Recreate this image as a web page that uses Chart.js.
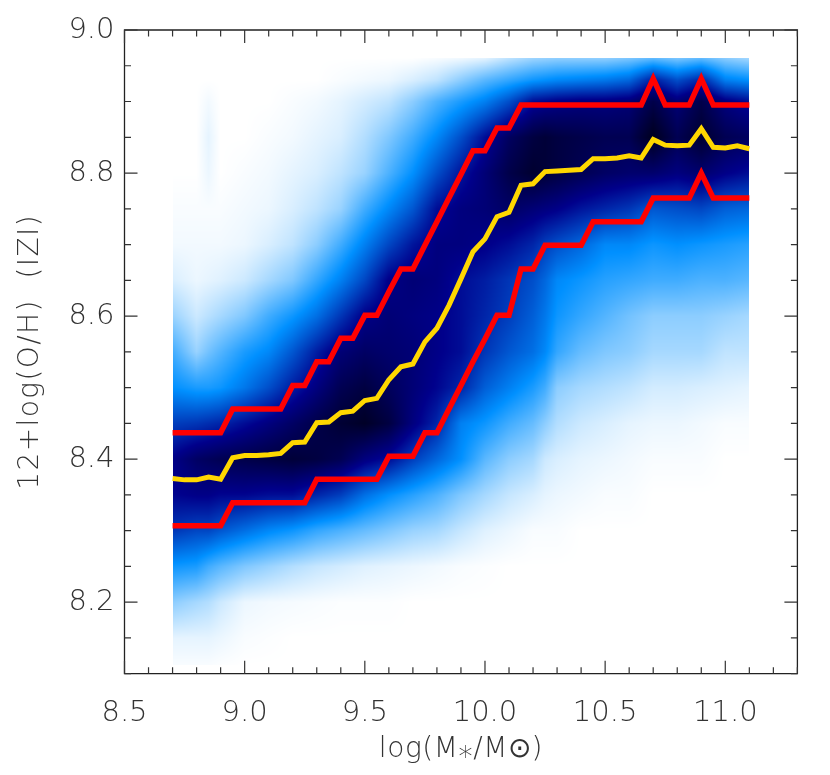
<!DOCTYPE html>
<html><head><meta charset="utf-8">
<style>html,body{margin:0;padding:0;background:#fff}canvas{display:block}</style>
<script src="https://cdn.jsdelivr.net/npm/chart.js@4"></script>
</head><body>
<div style="width:830px;height:775px"><canvas id="c" width="830" height="775"></canvas></div>
<script>
const massBins=[8.7,8.75,8.8,8.85,8.9,8.95,9,9.05,9.1,9.15,9.2,9.25,9.3,9.35,9.4,9.45,9.5,9.55,9.6,9.65,9.7,9.75,9.8,9.85,9.9,9.95,10,10.05,10.1,10.15,10.2,10.25,10.3,10.35,10.4,10.45,10.5,10.55,10.6,10.65,10.7,10.75,10.8,10.85,10.9,10.95,11,11.05,11.1];
const upper84=[8.437,8.437,8.437,8.437,8.437,8.47,8.47,8.47,8.47,8.47,8.503,8.503,8.536,8.536,8.569,8.569,8.601,8.601,8.634,8.666,8.666,8.699,8.732,8.765,8.798,8.831,8.831,8.863,8.863,8.895,8.895,8.895,8.895,8.895,8.895,8.895,8.895,8.895,8.895,8.895,8.932,8.895,8.895,8.895,8.932,8.895,8.895,8.895,8.895];
const median50=[8.373,8.371,8.371,8.375,8.372,8.402,8.405,8.405,8.406,8.408,8.423,8.424,8.451,8.452,8.465,8.467,8.482,8.485,8.511,8.529,8.533,8.564,8.583,8.615,8.652,8.69,8.708,8.739,8.745,8.783,8.785,8.802,8.803,8.804,8.805,8.82,8.82,8.821,8.824,8.821,8.847,8.839,8.838,8.839,8.862,8.836,8.835,8.838,8.834];
const lower16=[8.307,8.307,8.307,8.307,8.307,8.339,8.339,8.339,8.339,8.339,8.339,8.339,8.372,8.372,8.372,8.372,8.372,8.372,8.404,8.404,8.404,8.437,8.437,8.47,8.503,8.536,8.568,8.601,8.601,8.666,8.666,8.699,8.699,8.699,8.699,8.732,8.732,8.732,8.732,8.732,8.765,8.765,8.765,8.765,8.8,8.765,8.765,8.765,8.765];
const xTickLabels={8.5:"8.5",9:"9.0",9.5:"9.5",10:"10.0",10.5:"10.5",11:"11.0"};
const yTickLabels={8.2:"8.2",8.4:"8.4",8.6:"8.6",8.8:"8.8",9:"9.0"};
// density grid, columns follow gridX, rows follow gridY
const gridX=[8.7,8.8,8.85,8.9,9,9.1,9.2,9.3,9.4,9.5,9.6,9.7,9.8,9.9,10,10.1,10.2,10.25,10.3,10.4,10.5,10.6,10.7,10.8,10.9,11,11.1];
const gridY=[8.961,8.93,8.9,8.85,8.8,8.75,8.7,8.65,8.6,8.55,8.5,8.45,8.4,8.35,8.3,8.25,8.2,8.15,8.112];
const d8961=[0,0,0,0,0,0,0,0,0,0,0,0,1,2,4,10,15,16,17,17,17,20,24,20,24,18,14];
const d8930=[0,0,0,0,0,0,0,0,1,2,3,6,10,18,26,32,38,40,42,44,46,50,68,56,66,44,40];
const d8900=[0,0,2,0,0,0,1,2,4,7,10,18,28,36,44,56,72,74,76,78,78,80,90,80,90,78,72];
const d8850=[0,0,4,0,0,1,2,4,6,12,20,30,42,56,72,85,92,94,92,90,88,88,100,88,96,88,85];
const d8800=[0,0,3,0,1,2,4,6,10,16,28,40,56,70,80,90,96,94,92,88,84,82,82,78,82,76,72];
const d8750=[1,1,1,1,2,3,6,10,16,30,42,54,72,78,80,84,80,78,76,70,66,62,54,56,58,52,50];
const d8700=[2,2,2,2,3,6,10,18,30,44,58,70,78,78,76,72,66,60,56,50,42,42,38,40,38,36,34];
const d8650=[6,3,4,5,8,14,20,32,44,58,76,80,78,72,68,62,56,50,42,38,34,32,30,30,28,28,26];
const d8600=[16,8,11,14,20,30,38,48,62,76,80,78,76,72,66,60,52,46,38,32,27,22,18,18,18,16,14];
const d8550=[30,16,22,27,36,42,54,68,80,84,82,80,76,72,62,54,48,42,32,24,20,18,14,14,14,10,10];
const d8500=[40,36,36,38,46,56,68,78,88,92,86,80,74,66,52,44,36,30,18,14,12,10,7,7,6,5,4];
const d8450=[60,62,64,66,72,78,84,90,95,98,92,78,66,44,38,30,24,18,12,8,6,4,3,3,2,1,1];
const d8400=[76,84,86,88,90,92,94,92,88,78,72,60,50,40,26,18,14,8,6,4,3,2,1,1,1,0,0];
const d8350=[74,76,76,74,74,72,72,66,60,48,40,34,28,20,14,9,6,4,3,2,1,1,0,0,0,0,0];
const d8300=[62,58,58,54,48,42,38,32,28,24,20,16,14,9,5,3,1,1,1,0,0,0,0,0,0,0,0];
const d8250=[38,36,30,26,20,16,12,9,7,5,4,3,2,1,0.5,0,0,0,0,0,0,0,0,0,0,0,0];
const d8200=[18,14,12,8,3,2,1.5,1,0.5,0.5,0.5,0,0,0,0,0,0,0,0,0,0,0,0,0,0,0,0];
const d8150=[4,4,4,3,1,0.5,0,0,0,0,0,0,0,0,0,0,0,0,0,0,0,0,0,0,0,0,0];
const d8112=[1,1,1,0.5,0,0,0,0,0,0,0,0,0,0,0,0,0,0,0,0,0,0,0,0,0,0,0];
const density=[d8961,d8930,d8900,d8850,d8800,d8750,d8700,d8650,d8600,d8550,d8500,d8450,d8400,d8350,d8300,d8250,d8200,d8150,d8112];

const colorStops=[[0,255,255,255],[40,0,144,255],[75,0,0,139],[100,0,0,30]];
function colorOf(v){
  for(let i=1;i<colorStops.length;i++){
    const a=colorStops[i-1],b=colorStops[i];
    if(v<=b[0]){const t=(v-a[0])/(b[0]-a[0]);return [a[1]+(b[1]-a[1])*t,a[2]+(b[2]-a[2])*t,a[3]+(b[3]-a[3])*t];}
  }
  return colorStops[colorStops.length-1].slice(1);
}
function locate(arr,v){
  const desc=arr[0]>arr[arr.length-1];
  for(let i=0;i<arr.length-1;i++){
    const lo=arr[i],hi=arr[i+1];
    if(desc? v>=hi : v<=hi){let t=(v-lo)/(hi-lo);return [i,Math.max(0,Math.min(1,t))];}
  }
  return [arr.length-2,1];
}
const heatPlugin={id:'heat',beforeDatasetsDraw(chart){
  const xs=chart.scales.x,ys=chart.scales.y,ctx=chart.ctx;
  const x0=Math.round(xs.getPixelForValue(gridX[0])),x1=Math.round(xs.getPixelForValue(gridX[gridX.length-1]));
  const y0=Math.round(ys.getPixelForValue(gridY[0])),y1=Math.round(ys.getPixelForValue(gridY[gridY.length-1]));
  const w=x1-x0,h=y1-y0,off=document.createElement('canvas');off.width=w;off.height=h;
  const oc=off.getContext('2d'),img=oc.createImageData(w,h);
  for(let j=0;j<h;j++){
    const [r,tr]=locate(gridY,ys.getValueForPixel(y0+j+0.5));
    for(let i=0;i<w;i++){
      const [c,tc]=locate(gridX,xs.getValueForPixel(x0+i+0.5));
      const v=(density[r][c]*(1-tc)+density[r][c+1]*tc)*(1-tr)+(density[r+1][c]*(1-tc)+density[r+1][c+1]*tc)*tr;
      const col=colorOf(v),k=(j*w+i)*4;
      img.data[k]=col[0];img.data[k+1]=col[1];img.data[k+2]=col[2];img.data[k+3]=255;
    }
  }
  oc.putImageData(img,0,0);ctx.drawImage(off,x0,y0);
}};
const framePlugin={id:'frame',afterDraw(chart){
  const {left,right,top,bottom}=chart.chartArea,ctx=chart.ctx,xs=chart.scales.x,ys=chart.scales.y;
  ctx.save();ctx.lineWidth=1.3;ctx.strokeStyle='#222';
  ctx.beginPath();ctx.rect(left,top,right-left,bottom-top);ctx.stroke();
  ctx.lineWidth=1.2;ctx.strokeStyle='#333';ctx.beginPath();
  xs.ticks.forEach(t=>{const p=xs.getPixelForValue(t.value),len=t.label?13:6.5;
    ctx.moveTo(p,bottom);ctx.lineTo(p,bottom-len);ctx.moveTo(p,top);ctx.lineTo(p,top+len);});
  ys.ticks.forEach(t=>{const p=ys.getPixelForValue(t.value),len=t.label?13:6.5;
    ctx.moveTo(left,p);ctx.lineTo(left+len,p);ctx.moveTo(right,p);ctx.lineTo(right-len,p);});
  ctx.stroke();ctx.restore();
}};
const titleSpacing={x:'0.6px',y:'1.4px'};
const spacingPlugin={id:'spacing',beforeDraw(chart){
  ['x','y'].forEach(id=>{
    const s=chart.scales[id];
    if(s._spaced)return;
    const orig=s.drawTitle;
    s.drawTitle=function(...a){chart.ctx.letterSpacing=titleSpacing[id];orig.apply(this,a);chart.ctx.letterSpacing='0px';};
    s._spaced=true;
  });
}};
const pts=a=>a.map((v,i)=>({x:massBins[i],y:v}));
const tickFont={family:'"DejaVu Sans"',size:29,weight:'200'};
const titleFont={family:'"DejaVu Sans"',size:28,weight:'200'};
const stepTicks=(lo,n,step)=>Array.from({length:n},(_,i)=>({value:+(lo+i*step).toFixed(2)}));
new Chart(document.getElementById('c'),{
  type:'scatter',
  data:{datasets:[
    {label:'84th percentile',data:pts(upper84),showLine:true,borderColor:'#ff0000',borderWidth:5.5,pointRadius:0,borderJoinStyle:'miter',fill:false,tension:0},
    {label:'16th percentile',data:pts(lower16),showLine:true,borderColor:'#ff0000',borderWidth:5.5,pointRadius:0,borderJoinStyle:'miter',fill:false,tension:0},
    {label:'Median',data:pts(median50),showLine:true,borderColor:'#ffd700',borderWidth:5,pointRadius:0,borderJoinStyle:'miter',fill:false,tension:0}
  ]},
  options:{
    responsive:false,animation:false,
    layout:{padding:{left:0,right:32.6,top:30,bottom:0}},
    plugins:{legend:{display:false},tooltip:{enabled:false}},
    scales:{
      x:{type:'linear',min:8.5,max:11.3,
        afterBuildTicks:s=>{s.ticks=stepTicks(8.5,29,0.1);},
        afterFit:s=>{s.height=101.3;},
        grid:{display:false},border:{display:false},
        ticks:{autoSkip:false,maxRotation:0,minRotation:0,padding:14,color:'#333',font:tickFont,callback:v=>xTickLabels[+(+v).toFixed(2)]||''},
        title:{display:true,text:'log(M⁎/M⊙)',color:'#333',font:titleFont,padding:{top:0,bottom:8}}},
      y:{type:'linear',min:8.1,max:9,
        afterBuildTicks:s=>{s.ticks=stepTicks(8.1,19,0.05);},
        afterFit:s=>{s.width=124.5;},
        grid:{display:false},border:{display:false},
        ticks:{autoSkip:false,padding:2,color:'#333',font:tickFont,callback:v=>yTickLabels[+(+v).toFixed(2)]||''},
        title:{display:true,text:'12+log(O/H)  (IZI)',color:'#333',font:titleFont,padding:{top:14,bottom:0}}}
    }
  },
  plugins:[spacingPlugin,heatPlugin,framePlugin]
});
</script>
</body></html>
